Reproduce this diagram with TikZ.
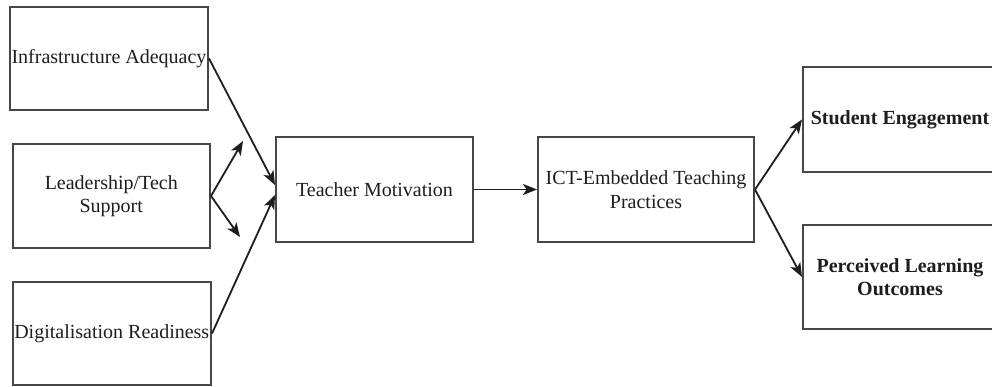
\documentclass[tikz,border=0pt]{standalone}
\usepackage{fontspec}
\setmainfont{Liberation Serif}
\usetikzlibrary{arrows.meta}
\definecolor{boxgray}{HTML}{474747}
\definecolor{inkc}{HTML}{1E1E1E}
\begin{document}
\begin{tikzpicture}[x=1pt,y=-1pt,
  box/.style={draw=boxgray, line width=2pt, fill=white, align=center, inner sep=0pt,
    font=\fontsize{20}{23.5}\selectfont, text=inkc},
  conn/.style={draw=inkc, line width=1.8pt, -{Stealth[length=14pt,width=11pt,inset=3.5pt]}}]
\useasboundingbox (0,0) rectangle (992,387);
\clip (0,0) rectangle (992,387);
\fill[white] (0,0) rectangle (992,387);
\node[box, minimum width=198pt, minimum height=103pt] (infra) at (109,58.5) {Infrastructure Adequacy};
\node[box, minimum width=197.5pt, minimum height=104pt] (lead) at (111.25,196) {Leadership/Tech\\Support};
\node[box, minimum width=198.5pt, minimum height=103pt] (digit) at (111.75,333.5) {Digitalisation Readiness};
\node[box, minimum width=197pt, minimum height=105pt] (tm) at (374.5,189.5) {Teacher Motivation};
\node[box, minimum width=216pt, minimum height=105pt] (ict) at (646,189.5) {ICT-Embedded Teaching\\Practices};
\node[box, minimum width=194pt, minimum height=105pt, font=\fontsize{20}{23.5}\selectfont\bfseries] (se) at (900,119.5) {Student Engagement};
\node[box, minimum width=194pt, minimum height=104pt, font=\fontsize{20}{23.5}\selectfont\bfseries] (plo) at (900,277) {Perceived Learning\\Outcomes};
\coordinate (up) at (243,141);
\coordinate (down) at (240,237);
\draw[conn] (infra.east) -- ([yshift=4.5pt]tm.west);
\draw[conn] (digit.east) -- ([yshift=-5.5pt]tm.west);
\draw[conn] (lead.east) -- (up);
\draw[conn] (lead.east) -- (down);
\draw[conn] (tm.east) -- (ict.west);
\draw[conn] (ict.east) -- (se.west);
\draw[conn] (ict.east) -- (plo.west);
\end{tikzpicture}
\end{document}
